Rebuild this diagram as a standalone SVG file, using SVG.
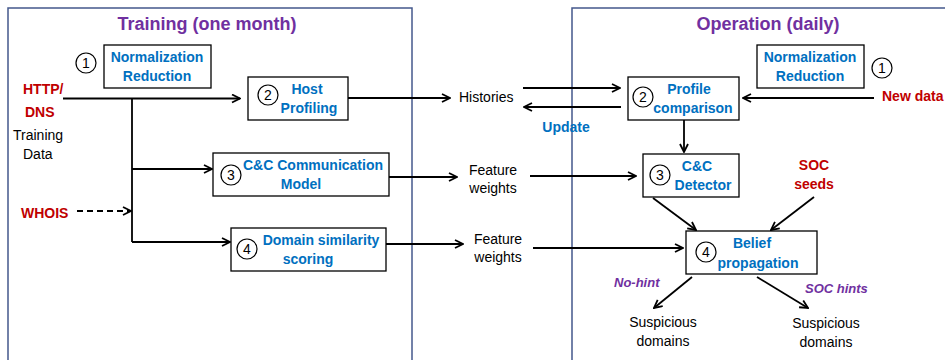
<svg xmlns="http://www.w3.org/2000/svg" width="945" height="360" viewBox="0 0 945 360">
<defs>
<marker id="arr" viewBox="0 0 10 10" refX="9" refY="5" markerWidth="10" markerHeight="10" markerUnits="userSpaceOnUse" orient="auto">
<path d="M1,1 L9,5 L1,9" fill="none" stroke="#000" stroke-width="1.8"/>
</marker>
</defs>
<style>
text{font-family:"Liberation Sans",Arial,sans-serif;}
.frame{fill:none;stroke:#44588C;stroke-width:1.5;}
.title{font-size:18px;font-weight:bold;fill:#7030A0;text-anchor:middle;}
.box{fill:#fff;stroke:#000;stroke-width:1.3;}
.bl{font-size:14px;font-weight:bold;fill:#0070C0;text-anchor:middle;}
.red{font-size:14px;font-weight:bold;fill:#C00000;}
.blk{font-size:14px;fill:#000;}
.num{font-size:14px;fill:#000;text-anchor:middle;}
.circ{fill:none;stroke:#000;stroke-width:1.2;}
.pur{font-size:13px;font-weight:bold;font-style:italic;fill:#7030A0;}
.c{fill:none;stroke:#000;stroke-width:1.8;}
.ca{fill:none;stroke:#000;stroke-width:1.8;marker-end:url(#arr);}
.dash{fill:none;stroke:#000;stroke-width:1.8;stroke-dasharray:6,4;marker-end:url(#arr);}
</style>
<rect width="945" height="360" fill="#fff"/>
<g id="frame-training">
<rect class="frame" x="8" y="8" width="404" height="380"/>
<text class="title" x="207" y="30">Training (one month)</text>
</g>
<g id="frame-operation">
<rect class="frame" x="572" y="8" width="400" height="380"/>
<text class="title" x="768" y="30">Operation (daily)</text>
</g>
<g id="connectors">
<path class="ca" d="M63,98.5 H240"/>
<path class="c" d="M132,98.5 V242"/>
<path class="ca" d="M132,169 H212"/>
<path class="ca" d="M132,242 H230"/>
<path class="dash" d="M77,211 H131"/>
<path class="ca" d="M348,98 H450"/>
<path class="ca" d="M389,177 H457"/>
<path class="ca" d="M386,244 H463"/>
<path class="ca" d="M523,88 H620"/>
<path class="ca" d="M621,107 H524"/>
<path class="ca" d="M874,98 H743"/>
<path class="ca" d="M684,120 V152"/>
<path class="ca" d="M530,176 H636"/>
<path class="ca" d="M653,198 L696,230"/>
<path class="ca" d="M814,197 L771,230"/>
<path class="ca" d="M533,248 H683"/>
<path class="ca" d="M692,277 L654,308"/>
<path class="ca" d="M757,277 L808,308"/>
</g>
<g id="inputs-left">
<text class="red" x="23" y="94">HTTP/</text>
<text class="red" x="25" y="117">DNS</text>
<text class="blk" x="13" y="140">Training</text>
<text class="blk" x="23" y="159">Data</text>
<text class="red" x="21" y="218">WHOIS</text>
</g>
<g id="t-norm">
<rect class="box" x="104" y="45" width="107" height="43"/>
<text class="bl" x="157" y="62">Normalization</text>
<text class="bl" x="157" y="81">Reduction</text>
<circle class="circ" cx="86" cy="63" r="10"/><text class="num" x="86" y="68">1</text>
</g>
<g id="t-host">
<rect class="box" x="248" y="77" width="100" height="43"/>
<text class="bl" x="307" y="94">Host</text>
<text class="bl" x="309" y="113">Profiling</text>
<circle class="circ" cx="268" cy="95" r="10"/><text class="num" x="268" y="100">2</text>
</g>
<g id="t-cc">
<rect class="box" x="213" y="153" width="176" height="43"/>
<text class="bl" x="313" y="170">C&amp;C Communication</text>
<text class="bl" x="301" y="189">Model</text>
<circle class="circ" cx="231" cy="175" r="10"/><text class="num" x="231" y="180">3</text>
</g>
<g id="t-domain">
<rect class="box" x="231" y="228" width="155" height="43"/>
<text class="bl" x="321" y="245">Domain similarity</text>
<text class="bl" x="308" y="264">scoring</text>
<circle class="circ" cx="247" cy="249" r="10"/><text class="num" x="247" y="254">4</text>
</g>
<g id="mid-labels">
<text class="blk" x="459" y="102">Histories</text>
<text class="blk" x="493" y="175" text-anchor="middle">Feature</text>
<text class="blk" x="493" y="193" text-anchor="middle">weights</text>
<text class="blk" x="498" y="244" text-anchor="middle">Feature</text>
<text class="blk" x="498" y="262" text-anchor="middle">weights</text>
<text class="bl" x="566" y="132">Update</text>
</g>
<g id="o-norm">
<rect class="box" x="757" y="45" width="107" height="43"/>
<text class="bl" x="810" y="62">Normalization</text>
<text class="bl" x="810" y="81">Reduction</text>
<circle class="circ" cx="882" cy="68" r="10"/><text class="num" x="882" y="73">1</text>
</g>
<g id="o-profile">
<rect class="box" x="628" y="77" width="111" height="43"/>
<text class="bl" x="689" y="94">Profile</text>
<text class="bl" x="693" y="113">comparison</text>
<circle class="circ" cx="643" cy="97" r="10"/><text class="num" x="643" y="102">2</text>
</g>
<g id="o-newdata">
<text class="red" x="882" y="101">New data</text>
</g>
<g id="o-cc">
<rect class="box" x="643" y="154" width="96" height="43"/>
<text class="bl" x="697" y="171">C&amp;C</text>
<text class="bl" x="703" y="190">Detector</text>
<circle class="circ" cx="660" cy="175" r="10"/><text class="num" x="660" y="180">3</text>
</g>
<g id="o-soc">
<text class="red" x="814" y="170" text-anchor="middle">SOC</text>
<text class="red" x="814" y="189" text-anchor="middle">seeds</text>
</g>
<g id="o-belief">
<rect class="box" x="686" y="231" width="131" height="43"/>
<text class="bl" x="752" y="248">Belief</text>
<text class="bl" x="758" y="268">propagation</text>
<circle class="circ" cx="706" cy="252" r="10"/><text class="num" x="706" y="257">4</text>
</g>
<g id="o-out">
<text class="pur" x="614" y="287">No-hint</text>
<text class="pur" x="805" y="293">SOC hints</text>
<text class="blk" x="663" y="327" text-anchor="middle">Suspicious</text>
<text class="blk" x="663" y="346" text-anchor="middle">domains</text>
<text class="blk" x="826" y="328" text-anchor="middle">Suspicious</text>
<text class="blk" x="826" y="347" text-anchor="middle">domains</text>
</g>
</svg>
